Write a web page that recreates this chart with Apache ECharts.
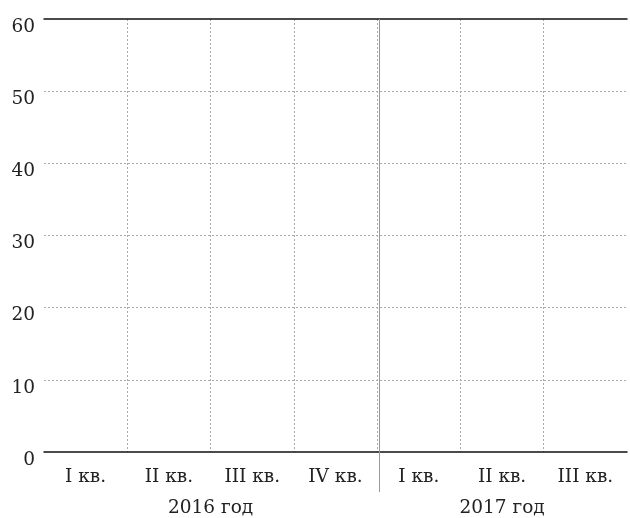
<!DOCTYPE html>
<html><head><meta charset="utf-8">
<script src="https://cdn.jsdelivr.net/npm/echarts@6/dist/echarts.min.js"></script>
<style>html,body{margin:0;padding:0;background:#fff}#c{width:630px;height:518px}</style>
</head><body><div id="c"></div>
<script>
const quarters = ['I кв.', 'II кв.', 'III кв.', 'IV кв.', 'I кв.', 'II кв.', 'III кв.'];
const years = ['2016 год', '2017 год'];
const yearCenters = [2, 5.5];
const yearBoundary = 4;
const values = [];

const FONT = 'DejaVu Serif';
const FS = 18.5;
const TXT = '#222';
const chart = echarts.init(document.getElementById('c'));
chart.setOption({
  animation: false,
  grid: [
    {left: 44, width: 587, top: 19, height: 437, containLabel: false},
    {left: 44, width: 587, top: 19, height: 473, containLabel: false}
  ],
  xAxis: [
    {type: 'category', data: quarters, position: 'bottom', gridIndex: 0,
     axisLine: {show: true, lineStyle: {color: '#111', width: 1.5}},
     axisTick: {show: false}, splitLine: {show: false},
     axisLabel: {interval: 0, color: TXT, fontFamily: FONT, fontSize: FS, margin: 16}},
    {type: 'value', min: 0, max: 7, interval: 0.5, position: 'bottom', gridIndex: 0,
     axisLine: {show: false}, axisTick: {show: false},
     axisLabel: {show: true, color: TXT, fontFamily: FONT, fontSize: FS, margin: 47,
       formatter: v => { const i = yearCenters.indexOf(v); return i >= 0 ? years[i] : ''; }},
     splitLine: {show: false}},
    {type: 'value', min: 0, max: 7, interval: 1, position: 'top', gridIndex: 0,
     axisLine: {show: true, lineStyle: {color: '#111', width: 1.5}}, axisTick: {show: false},
     axisLabel: {show: false},
     splitLine: {show: true, showMinLine: false, showMaxLine: false,
       lineStyle: {color: '#aaa', type: [2, 2], width: 1}}},
    {type: 'value', min: 0, max: 7, gridIndex: 1, show: false}
  ],
  yAxis: [
    {type: 'value', min: 0, max: 60, interval: 10, gridIndex: 0,
     axisLine: {show: false}, axisTick: {show: false},
     axisLabel: {color: TXT, fontFamily: FONT, fontSize: FS, margin: 9, verticalAlign: 'top', lineHeight: 16},
     splitLine: {show: true, showMinLine: false, showMaxLine: false,
       lineStyle: {color: '#aaa', type: [2, 2], width: 1}}},
    {type: 'value', min: 0, max: 1, gridIndex: 1, show: false}
  ],
  series: [{
    type: 'line', xAxisIndex: 3, yAxisIndex: 1, data: values, silent: true,
    markLine: {silent: true, symbol: 'none', label: {show: false},
      lineStyle: {color: '#999', type: 'solid', width: 1},
      data: [[{coord: [yearBoundary, 0]}, {coord: [yearBoundary, 1]}]]}
  }]
});
</script></body></html>
